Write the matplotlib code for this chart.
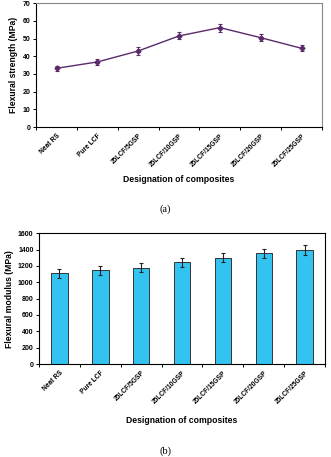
import matplotlib
matplotlib.use("Agg")
import matplotlib.pyplot as plt
import numpy as np

plt.rcParams['font.family'] = ['Liberation Sans', 'DejaVu Sans']

categories = ["Neat RS", "Pure LCF", "25LCF/5GSP", "25LCF/10GSP",
              "25LCF/15GSP", "25LCF/20GSP", "25LCF/25GSP"]
strength = [33.2, 36.8, 43.0, 51.5, 56.2, 50.5, 44.5]
strength_err = [1.5, 1.8, 2.0, 2.0, 2.2, 2.0, 1.8]
modulus = [1108, 1145, 1180, 1243, 1298, 1358, 1398]
modulus_err = [50, 50, 55, 55, 55, 55, 60]
strength_ticks = [0, 10, 20, 30, 40, 50, 60, 70]
modulus_ticks = [0, 200, 400, 600, 800, 1000, 1200, 1400, 1600]

fig = plt.figure(figsize=(3.31, 4.57), dpi=100)

x = np.arange(len(categories))
bounds = np.arange(len(categories) + 1) - 0.5

def style_axis(ax, yticks, xlabelpad):
    ax.set_xlim(-0.5, len(categories) - 0.5)
    ax.set_ylim(yticks[0], yticks[-1])
    ax.set_yticks(yticks)
    ax.set_yticklabels([str(t) for t in yticks], fontsize=5, fontweight='bold')
    ax.set_xticks(bounds)
    ax.set_xticklabels([])
    ax.set_xticks(x, minor=True)
    ax.set_xticklabels(categories, minor=True, rotation=45, ha='right', va='top',
                       rotation_mode='anchor', fontsize=4.8, fontweight='bold')
    ax.tick_params(axis='x', which='minor', length=0, pad=4)
    ax.tick_params(axis='both', which='major', length=2.5, width=0.7, direction='out', pad=1.5)
    for s in ax.spines.values():
        s.set_linewidth(0.8)
    ax.set_xlabel("Designation of composites", fontsize=6.2, fontweight='bold',
                  labelpad=xlabelpad)

# Top chart (a)
ax1 = fig.add_axes([0.109, 0.722, 0.864, 0.271])
ax1.errorbar(x, strength, yerr=strength_err, color='#5b2a6a', lw=1.0,
             marker='D', ms=2.5, capsize=1.5, elinewidth=0.8, capthick=0.8)
style_axis(ax1, strength_ticks, 5)
ax1.spines['top'].set_color('#888888')
ax1.spines['right'].set_color('#888888')
ax1.set_ylabel("Flexural strength (MPa)", fontsize=6.2, fontweight='bold', labelpad=3)

fig.text(0.5, 1 - 209 / 457, "(a)", ha='center', va='center', fontsize=7.5,
         family=['Liberation Serif', 'DejaVu Serif'])

# Bottom chart (b)
ax2 = fig.add_axes([0.118, 0.2035, 0.864, 0.286])
ax2.bar(x, modulus, width=0.4, color='#33c3f0', edgecolor='#333333', linewidth=0.7,
        yerr=modulus_err, error_kw=dict(ecolor='#222222', elinewidth=0.8, capsize=1.5, capthick=0.8))
style_axis(ax2, modulus_ticks, 7.5)
ax2.set_ylabel("Flexural modulus (MPa)", fontsize=6.2, fontweight='bold', labelpad=3)

fig.text(0.5, 1 - 451 / 457, "(b)", ha='center', va='center', fontsize=7.5,
         family=['Liberation Serif', 'DejaVu Serif'])

fig.savefig("out.png", dpi=100)
